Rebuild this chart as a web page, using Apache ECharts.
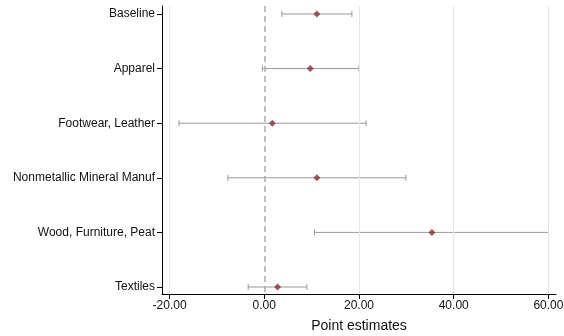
<!DOCTYPE html>
<html>
<head>
<meta charset="utf-8">
<script src="https://cdn.jsdelivr.net/npm/echarts@6/dist/echarts.min.js"></script>
<style>
html, body { margin: 0; padding: 0; background: #fff; }
#chart { width: 564px; height: 336px; }
</style>
</head>
<body>
<div id="chart"></div>
<script>
// data
var categories = ["Baseline", "Apparel", "Footwear, Leather", "Nonmetallic Mineral Manuf", "Wood, Furniture, Peat", "Textiles"];
var estimates = [11.1, 9.7, 1.7, 11.1, 35.4, 2.8];
var lower = [3.7, -0.4, -18.0, -7.7, 10.6, -3.4];
var upper = [18.5, 20.0, 21.5, 29.9, 60.0, 9.0];
var xTicks = [-20, 0, 20, 40, 60];

var font = "Liberation Sans";
var catIdx = categories.map(function (c, i) { return i; });

var myChart = echarts.init(document.getElementById("chart"));

var pointData = estimates.map(function (v, i) { return [v, i]; });
var ciData = lower.map(function (v, i) { return [v, upper[i], i]; });

var options = {
    animation: false,
    backgroundColor: "#fff",
    textStyle: {fontFamily: font},
    grid: {left: 162, right: 8, top: 6, bottom: 42, containLabel: false, outerBoundsMode: "none"},
    xAxis: {
        type: "value",
        min: -21.6,
        max: 61.6,
        name: "Point estimates",
        nameLocation: "middle",
        nameGap: 25,
        nameTextStyle: {color: "#111", fontSize: 14, fontFamily: font},
        axisLine: {show: true, onZero: false, lineStyle: {color: "#000", width: 1}},
        axisTick: {show: true, length: 5, customValues: xTicks, lineStyle: {color: "#000"}},
        axisLabel: {
            customValues: xTicks,
            color: "#111", fontSize: 12, fontFamily: font, margin: 6,
            formatter: function (v) { return v.toFixed(2); }
        },
        splitLine: {show: false}
    },
    yAxis: {
        type: "value",
        inverse: true,
        min: -0.146,
        max: 5.128,
        axisLine: {show: true, onZero: false, lineStyle: {color: "#000", width: 1}},
        axisTick: {show: true, length: 5, customValues: catIdx, lineStyle: {color: "#000"}},
        axisLabel: {
            customValues: catIdx,
            color: "#111", fontSize: 12, fontFamily: font, margin: 7,
            formatter: function (v) { return categories[Math.round(v)]; }
        },
        splitLine: {show: false}
    },
    series: [
        {
            // grid lines and zero reference
            type: "line",
            data: [],
            silent: true,
            markLine: {
                silent: true,
                symbol: "none",
                label: {show: false},
                data: xTicks.filter(function (t) { return t !== 0; }).map(function (t) {
                    return {xAxis: t, lineStyle: {color: "#e6e6e6", width: 1, type: "solid"}};
                }).concat([{xAxis: 0, lineStyle: {color: "#aaaaaa", width: 1.5, type: [6, 4]}}])
            }
        },
        {
            type: "custom",
            data: ciData,
            z: 3,
            renderItem: function (params, api) {
                var lo = api.coord([api.value(0), api.value(2)]);
                var hi = api.coord([api.value(1), api.value(2)]);
                var h = 3;
                var st = {stroke: "#9a9a9a", lineWidth: 1};
                return {
                    type: "group",
                    children: [
                        {type: "line", shape: {x1: lo[0], y1: lo[1], x2: hi[0], y2: hi[1]}, style: st},
                        {type: "line", shape: {x1: lo[0], y1: lo[1] - h, x2: lo[0], y2: lo[1] + h}, style: st},
                        {type: "line", shape: {x1: hi[0], y1: hi[1] - h, x2: hi[0], y2: hi[1] + h}, style: st}
                    ]
                };
            }
        },
        {
            type: "scatter",
            data: pointData,
            z: 4,
            symbol: "diamond",
            symbolSize: 7,
            itemStyle: {color: "#8c2a32"}
        }
    ]
};

myChart.setOption(options);
</script>
</body>
</html>
